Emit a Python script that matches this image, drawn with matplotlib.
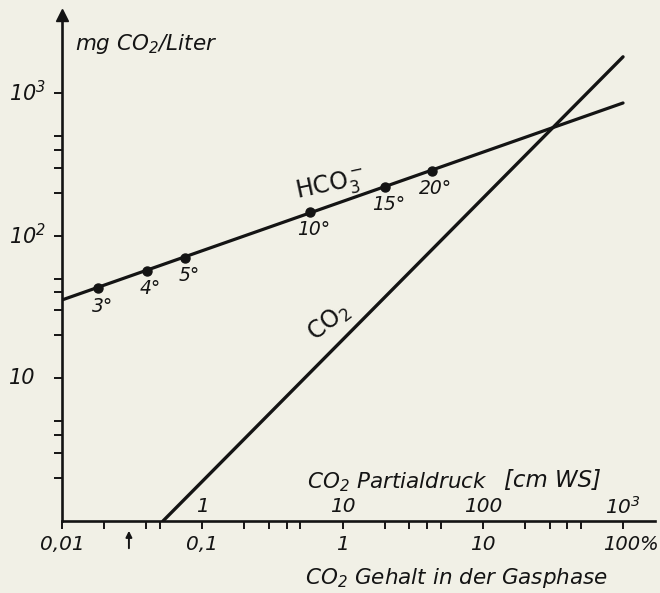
import matplotlib
matplotlib.use('Agg')
import matplotlib.pyplot as plt
import matplotlib.transforms as mtransforms

# ---------------- data ----------------
hco3_line_x = [0.01, 100]
hco3_line_y = [35.4, 850]
co2_line_x = [0.0525, 100]
co2_line_y = [1, 1790]

temp_labels = ['3°', '4°', '5°', '10°', '15°', '20°']
temp_x = [0.0182, 0.0402, 0.0753, 0.586, 2.01, 4.33]
temp_y = [42.7, 56.8, 70.0, 147, 220, 285]

x_major = [0.01, 0.1, 1, 10, 100]
x_major_labels = ['0,01', '0,1', '1', '10', '100%']
x_minor = [0.02, 0.04, 0.05, 0.2, 0.3, 0.4, 0.5, 2, 3, 4, 5, 20, 30, 40, 50]
top_ticks = [0.1, 1, 10, 100]
top_labels = ['1', '10', '100', r'10$^3$']
y_major = [10, 100, 1000]
y_major_labels = ['10', r'10$^2$', r'10$^3$']
y_minor = [2, 3, 4, 5, 20, 30, 40, 50, 200, 300, 400, 500]
atm_co2 = 0.03

# ---------------- style ----------------
paper = '#f1f0e6'
ink = '#141414'
plt.rcParams['font.family'] = ['DejaVu Sans']
plt.rcParams['mathtext.fontset'] = 'custom'
plt.rcParams['mathtext.sf'] = 'DejaVu Sans'
plt.rcParams['mathtext.rm'] = 'DejaVu Sans:italic'
plt.rcParams['mathtext.it'] = 'DejaVu Sans:italic'
plt.rcParams['mathtext.default'] = 'it'

W, H = 660, 593
fig = plt.figure(figsize=(W / 100, H / 100), dpi=100, facecolor=paper)
ax_l, ax_r, ax_b, ax_t = 62, 655, 521, 15
ax = fig.add_axes([ax_l / W, 1 - ax_b / H, (ax_r - ax_l) / W, (ax_b - ax_t) / H])
ax.set_facecolor(paper)
ax.set_xscale('log')
ax.set_yscale('log')
ax.set_xlim(0.01, 169)
ax.set_ylim(1, 3515)

for s in ['top', 'right']:
    ax.spines[s].set_visible(False)
for s in ['left', 'bottom']:
    ax.spines[s].set_linewidth(1.9)
    ax.spines[s].set_color(ink)

ax.set_xticks(x_major)
ax.set_xticks(x_minor, minor=True)
ax.set_yticks(y_major)
ax.set_yticks(y_minor, minor=True)
ax.tick_params(axis='both', which='both', direction='out', length=6, width=1.4,
               color=ink, labelbottom=False, labelleft=False)
ax.xaxis.set_minor_formatter(plt.NullFormatter())
ax.yaxis.set_minor_formatter(plt.NullFormatter())

# lines
ax.plot(hco3_line_x, hco3_line_y, color=ink, lw=2.3, solid_capstyle='round')
ax.plot(co2_line_x, co2_line_y, color=ink, lw=2.4, solid_capstyle='round')
ax.plot(temp_x, temp_y, 'o', color=ink, ms=6.5)
for lab, x, y in zip(temp_labels, temp_x, temp_y):
    ax.annotate(lab, (x, y), xytext=(4, -18), textcoords='offset pixels',
                ha='center', va='center', fontsize=13.5, style='italic', color=ink)

# y-axis arrow head
ax.plot([0], [1], marker='^', ms=8, color=ink, transform=ax.transAxes, clip_on=False)

xt = ax.get_xaxis_transform()
yt = mtransforms.blended_transform_factory(ax.transAxes, ax.transData)

# y labels
for v, lab in zip(y_major, y_major_labels):
    ax.text((9 - ax_l) / (ax_r - ax_l), v, lab, transform=yt, ha='left', va='center',
            fontsize=15, style='italic', color=ink)

# bottom x labels
for i, (v, lab) in enumerate(zip(x_major, x_major_labels)):
    if i == len(x_major) - 1:
        ax.annotate(lab, (v, 0), xycoords=xt, xytext=(-20, -23), textcoords='offset pixels',
                    ha='left', va='center', fontsize=14, style='italic', color=ink,
                    annotation_clip=False)
    else:
        ax.annotate(lab, (v, 0), xycoords=xt, xytext=(0, -23), textcoords='offset pixels',
                    ha='center', va='center', fontsize=14.5, style='italic', color=ink,
                    annotation_clip=False)

# top (partial pressure) labels
for v, lab in zip(top_ticks, top_labels):
    ax.annotate(lab, (v, 0), xycoords=xt, xytext=(0, 14), textcoords='offset pixels',
                ha='center', va='center', fontsize=14.5, style='italic', color=ink,
                annotation_clip=False)

# arrow at atmospheric CO2
ax.annotate('', xy=(atm_co2, -7 / 506), xycoords=xt, xytext=(atm_co2, -30 / 506),
            textcoords=xt, annotation_clip=False,
            arrowprops=dict(arrowstyle='-|>', lw=1.4, color=ink, mutation_scale=9))

# texts
def ftext(x, y, s, **kw):
    fig.text(x / W, 1 - y / H, s, **kw)

ftext(146, 44, r'mg CO$_2$/Liter', ha='center', va='center', fontsize=15.5, style='italic', color=ink)
ftext(397, 482, r'CO$_2$ Partialdruck', ha='center', va='center', fontsize=15.5, style='italic', color=ink)
ftext(552, 480, '[cm WS]', ha='center', va='center', fontsize=16.5, style='italic', color=ink)
ftext(457, 578, r'CO$_2$ Gehalt in der Gasphase', ha='center', va='center', fontsize=15.5, style='italic', color=ink)
ftext(330, 185, r'$\mathsf{HCO_3^-}$', ha='center', va='center', fontsize=17, rotation=12, color=ink)
ftext(329, 322, r'$\mathsf{CO_2}$', ha='center', va='center', fontsize=17, rotation=38, color=ink)

fig.savefig('out.png', dpi=100, facecolor=paper)
